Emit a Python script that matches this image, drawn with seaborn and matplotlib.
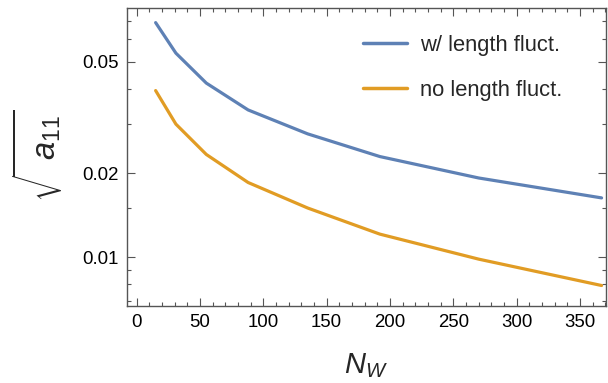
import numpy as np
import pandas as pd
import matplotlib
matplotlib.use("Agg")
import matplotlib.pyplot as plt
import seaborn as sns
from matplotlib.ticker import FixedLocator, NullFormatter, FixedFormatter

# ---- data ----
n_w = [15, 31, 55, 88, 135, 192, 270, 367]
with_fluct = [0.0689, 0.0536, 0.0419, 0.0336, 0.0276, 0.0229, 0.0192, 0.0163]
no_fluct = [0.0394, 0.0299, 0.0233, 0.0185, 0.0150, 0.0121, 0.00985, 0.00793]
series_names = ["w/ length fluct.", "no length fluct."]
colors = ["#5E81B5", "#E19C24"]

x_major = [0, 50, 100, 150, 200, 250, 300, 350]
x_minor = list(range(-10, 380, 10))
y_major = [0.01, 0.02, 0.05]
y_major_labels = ["0.01", "0.02", "0.05"]
y_minor = [0.006, 0.007, 0.008, 0.009, 0.015, 0.03, 0.04, 0.06, 0.07]

df = pd.DataFrame({
    "N": n_w * 2,
    "val": with_fluct + no_fluct,
    "series": [series_names[0]] * len(n_w) + [series_names[1]] * len(n_w),
})

sns.set_style("ticks")
plt.rcParams["font.family"] = ["Liberation Sans", "DejaVu Sans"]
plt.rcParams["mathtext.fontset"] = "custom"
plt.rcParams["mathtext.rm"] = "Liberation Sans"
plt.rcParams["mathtext.it"] = "Liberation Sans:italic"

fig = plt.figure(figsize=(6.08, 3.83), dpi=100)
ax = fig.add_axes([127 / 608, 1 - 306 / 383, (606 - 127) / 608, (306 - 8) / 383])

sns.lineplot(data=df, x="N", y="val", hue="series", palette=colors,
             linewidth=2.3, ax=ax, legend=True)

ax.set_yscale("log")
ax.set_xlim(-7.6, 370.5)
ax.set_ylim(0.0067, 0.0777)

frame_color = "#555555"
for s in ax.spines.values():
    s.set_visible(True)
    s.set_color(frame_color)
    s.set_linewidth(1.0)

ax.xaxis.set_major_locator(FixedLocator(x_major))
ax.xaxis.set_minor_locator(FixedLocator(x_minor))
ax.yaxis.set_major_locator(FixedLocator(y_major))
ax.yaxis.set_major_formatter(FixedFormatter(y_major_labels))
ax.yaxis.set_minor_locator(FixedLocator(y_minor))
ax.yaxis.set_minor_formatter(NullFormatter())

ax.tick_params(which="both", direction="in", top=True, right=True,
               color=frame_color, width=0.8, labelsize=13.4, labelcolor="black")
ax.tick_params(which="major", length=5.5, pad=6)
ax.tick_params(which="minor", length=3)

ax.set_xlabel("")
ax.set_ylabel("")

leg = ax.legend(title=None, frameon=False, fontsize=15.8, loc="upper left",
                bbox_to_anchor=(363 / 608, 1 - 35 / 383), bbox_transform=fig.transFigure,
                borderaxespad=0, borderpad=0, handlelength=2.0, handletextpad=0.6,
                labelspacing=1.09)
for line in leg.get_lines():
    line.set_linewidth(2.5)

fig.text(366 / 608, 1 - 366 / 383, r"$N_W$", fontsize=21, ha="center", va="center")

# invisible zero-rule stacks enlarge the radical sign like Mathematica's
G1 = r"\genfrac{}{}{0}{0}{\,}{\,}"
G2 = r"\genfrac{}{}{0}{0}{" + G1 + "}{" + G1 + "}"
fig.text(38 / 608, 1 - 156 / 383, r"$\sqrt{" + G2 + r"a_{11}}$",
         fontsize=23.5, rotation=90, ha="center", va="center")

fig.savefig("out.png", dpi=100)
